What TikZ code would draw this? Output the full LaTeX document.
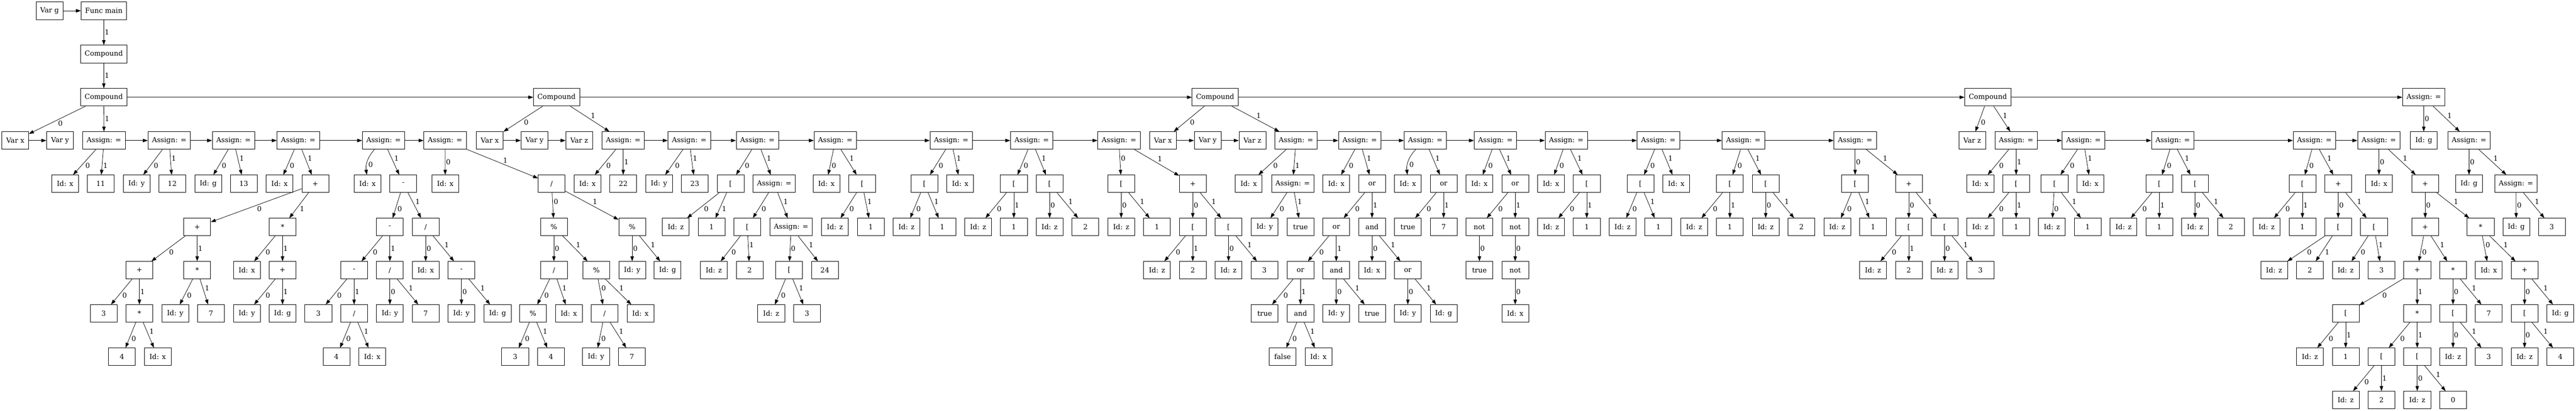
\documentclass[tikz,border=0pt]{standalone}
\usepackage{fontspec}
\setmainfont{DejaVu Serif}
\usetikzlibrary{arrows.meta}

\begin{document}
\begin{tikzpicture}[x=0.75pt, y=-87.05pt,
  box/.style={draw, rectangle, line width=0.8pt, minimum width=54pt, minimum height=35.3pt, inner xsep=8pt, font=\fontsize{14}{16}\selectfont},
  edge/.style={line width=0.8pt, -{Triangle[length=10pt,width=7pt]}},
  lbl/.style={auto, inner sep=1.5pt, font=\fontsize{14}{16}\selectfont}]
  \newcommand\nd[4]{\node[box] (#1) at (#2,#3) {#4};}
  \useasboundingbox (0,-0.249) rectangle (6911,9.254);

  \nd{vg}{133}{0}{Var g}
  \nd{fmain}{278.5}{0}{Func main}
  \nd{cmp}{278.5}{1}{Compound}
  \nd{ca}{278.5}{2}{Compound}
  \nd{cb}{1493}{2}{Compound}
  \nd{cc}{3260}{2}{Compound}
  \nd{cd}{5333}{2}{Compound}
  \nd{at}{6502.5}{2}{Assign: =}

  \nd{vxa}{41}{3}{Var x}
  \nd{vya}{161}{3}{Var y}
  \nd{a1}{279}{3}{Assign: =}
  \nd{a1l}{174.6}{4}{Id: x}
  \nd{a1r}{270}{4}{11}
  \nd{a2}{454}{3}{Assign: =}
  \nd{a2l}{366.5}{4}{Id: y}
  \nd{a2r}{462}{4}{12}
  \nd{a3}{626.6}{3}{Assign: =}
  \nd{a3l}{558.5}{4}{Id: g}
  \nd{a3r}{654}{4}{13}
  \nd{a4}{800}{3}{Assign: =}
  \nd{a4l}{750}{4}{Id: x}
  \nd{p1}{846}{4}{+}
  \nd{p2}{529}{5}{+}
  \nd{m1}{758}{5}{*}
  \nd{p3}{374}{6}{+}
  \nd{m2}{529}{6}{*}
  \nd{m1l}{662}{6}{Id: x}
  \nd{p4}{758}{6}{+}
  \nd{p3l}{278}{7}{3}
  \nd{m3}{374}{7}{*}
  \nd{m2l}{470}{7}{Id: y}
  \nd{m2r}{566}{7}{7}
  \nd{p4l}{662}{7}{Id: y}
  \nd{p4r}{758}{7}{Id: g}
  \nd{m3l}{327}{8}{4}
  \nd{m3r}{423}{8}{Id: x}
  \nd{a5}{1029}{3}{Assign: =}
  \nd{a5l}{986}{4}{Id: x}
  \nd{s1}{1082}{4}{-}
  \nd{s2}{1046}{5}{-}
  \nd{d1}{1142}{5}{/}
  \nd{s3}{950}{6}{-}
  \nd{d2}{1046}{6}{/}
  \nd{d1l}{1142}{6}{Id: x}
  \nd{s4}{1238}{6}{-}
  \nd{s3l}{854}{7}{3}
  \nd{d3}{950}{7}{/}
  \nd{d2l}{1046}{7}{Id: y}
  \nd{d2r}{1142}{7}{7}
  \nd{s4l}{1238}{7}{Id: y}
  \nd{s4r}{1335}{7}{Id: g}
  \nd{d3l}{902.6}{8}{4}
  \nd{d3r}{998.6}{8}{Id: x}
  \nd{a6}{1194}{3}{Assign: =}
  \nd{a6l}{1194.5}{4}{Id: x}
  \nd{d4}{1480}{4}{/}
  \nd{r1}{1486}{5}{\%}
  \nd{r2}{1696}{5}{\%}
  \nd{d5}{1486}{6}{/}
  \nd{r3}{1600}{6}{\%}
  \nd{r2l}{1696}{6}{Id: y}
  \nd{r2r}{1791}{6}{Id: g}
  \nd{r4}{1430}{7}{\%}
  \nd{d5r}{1526}{7}{Id: x}
  \nd{d6}{1622}{7}{/}
  \nd{r3r}{1718}{7}{Id: x}
  \nd{r4l}{1382}{8}{3}
  \nd{r4r}{1478}{8}{4}
  \nd{d6l}{1599}{8}{Id: y}
  \nd{d6r}{1695}{8}{7}

  \nd{vxb}{1314}{3}{Var x}
  \nd{vyb}{1434}{3}{Var y}
  \nd{vzb}{1554}{3}{Var z}
  \nd{a7}{1672}{3}{Assign: =}
  \nd{a7l}{1576}{4}{Id: x}
  \nd{a7r}{1672}{4}{22}
  \nd{a8}{1849}{3}{Assign: =}
  \nd{a8l}{1768}{4}{Id: y}
  \nd{a8r}{1864}{4}{23}
  \nd{a9}{2032}{3}{Assign: =}
  \nd{b1}{1960}{4}{[}
  \nd{a9b}{2077}{4}{Assign: =}
  \nd{b1l}{1813}{5}{Id: z}
  \nd{b1r}{1909}{5}{1}
  \nd{b2}{2005}{5}{[}
  \nd{a9c}{2122.5}{5}{Assign: =}
  \nd{b2l}{1915}{6}{Id: z}
  \nd{b2r}{2011}{6}{2}
  \nd{b3}{2117}{6}{[}
  \nd{a9cr}{2213}{6}{24}
  \nd{b3l}{2069}{7}{Id: z}
  \nd{b3r}{2165}{7}{3}
  \nd{a10}{2241}{3}{Assign: =}
  \nd{a10l}{2217}{4}{Id: x}
  \nd{b4}{2313}{4}{[}
  \nd{b4l}{2240}{5}{Id: z}
  \nd{b4r}{2336}{5}{1}
  \nd{a11}{2552}{3}{Assign: =}
  \nd{b5}{2480}{4}{[}
  \nd{a11r}{2576}{4}{Id: x}
  \nd{b5l}{2432}{5}{Id: z}
  \nd{b5r}{2528}{5}{1}
  \nd{a12}{2768}{3}{Assign: =}
  \nd{b6}{2720}{4}{[}
  \nd{b7}{2816}{4}{[}
  \nd{b6l}{2624}{5}{Id: z}
  \nd{b6r}{2720}{5}{1}
  \nd{b7l}{2816}{5}{Id: z}
  \nd{b7r}{2912}{5}{2}
  \nd{a13}{3002}{3}{Assign: =}
  \nd{b8}{3008}{4}{[}
  \nd{p5}{3200}{4}{+}
  \nd{b8l}{3008}{5}{Id: z}
  \nd{b8r}{3104}{5}{1}
  \nd{b9}{3200}{5}{[}
  \nd{b10}{3296}{5}{[}
  \nd{b9l}{3104}{6}{Id: z}
  \nd{b9r}{3200}{6}{2}
  \nd{b10l}{3296}{6}{Id: z}
  \nd{b10r}{3392}{6}{3}

  \nd{vxc}{3120}{3}{Var x}
  \nd{vyc}{3240}{3}{Var y}
  \nd{vzc}{3360}{3}{Var z}
  \nd{a14}{3477}{3}{Assign: =}
  \nd{a14l}{3350}{4}{Id: x}
  \nd{a14b}{3468}{4}{Assign: =}
  \nd{a14bl}{3393}{5}{Id: y}
  \nd{a14br}{3489}{5}{true}
  \nd{a15}{3648}{3}{Assign: =}
  \nd{a15l}{3585}{4}{Id: x}
  \nd{o1}{3681}{4}{or}
  \nd{o2}{3585}{5}{or}
  \nd{n1}{3681}{5}{and}
  \nd{o3}{3489}{6}{or}
  \nd{n2}{3585}{6}{and}
  \nd{n1l}{3681}{6}{Id: x}
  \nd{o4}{3777}{6}{or}
  \nd{o3l}{3393}{7}{true}
  \nd{n3}{3489}{7}{and}
  \nd{n2l}{3585}{7}{Id: y}
  \nd{n2r}{3681}{7}{true}
  \nd{o4l}{3777}{7}{Id: y}
  \nd{o4r}{3873}{7}{Id: g}
  \nd{n3l}{3441}{8}{false}
  \nd{n3r}{3537}{8}{Id: x}
  \nd{a16}{3824}{3}{Assign: =}
  \nd{a16l}{3777}{4}{Id: x}
  \nd{o5}{3873}{4}{or}
  \nd{o5l}{3777}{5}{true}
  \nd{o5r}{3873}{5}{7}
  \nd{a17}{4012}{3}{Assign: =}
  \nd{a17l}{3969}{4}{Id: x}
  \nd{o6}{4065}{4}{or}
  \nd{t1}{3969}{5}{not}
  \nd{t2}{4065}{5}{not}
  \nd{t1c}{3969}{6}{true}
  \nd{t3}{4065}{6}{not}
  \nd{t3c}{4065}{7}{Id: x}
  \nd{a18}{4202}{3}{Assign: =}
  \nd{a18l}{4161}{4}{Id: x}
  \nd{b11}{4257}{4}{[}
  \nd{b11l}{4161}{5}{Id: z}
  \nd{b11r}{4257}{5}{1}
  \nd{a19}{4449}{3}{Assign: =}
  \nd{b12}{4401}{4}{[}
  \nd{a19r}{4497}{4}{Id: x}
  \nd{b12l}{4353}{5}{Id: z}
  \nd{b12r}{4449}{5}{1}
  \nd{a20}{4677}{3}{Assign: =}
  \nd{b13}{4641}{4}{[}
  \nd{b14}{4737}{4}{[}
  \nd{b13l}{4545}{5}{Id: z}
  \nd{b13r}{4641}{5}{1}
  \nd{b14l}{4737}{5}{Id: z}
  \nd{b14r}{4833}{5}{2}
  \nd{a21}{4977}{3}{Assign: =}
  \nd{b15}{4977}{4}{[}
  \nd{p6}{5121}{4}{+}
  \nd{b15l}{4929}{5}{Id: z}
  \nd{b15r}{5025}{5}{1}
  \nd{b16}{5121}{5}{[}
  \nd{b17}{5217}{5}{[}
  \nd{b16l}{5025}{6}{Id: z}
  \nd{b16r}{5121}{6}{2}
  \nd{b17l}{5217}{6}{Id: z}
  \nd{b17r}{5313}{6}{3}

  \nd{vzd}{5291}{3}{Var z}
  \nd{a22}{5409}{3}{Assign: =}
  \nd{a22l}{5313}{4}{Id: x}
  \nd{b18}{5409}{4}{[}
  \nd{b18l}{5313}{5}{Id: z}
  \nd{b18r}{5409}{5}{1}
  \nd{a23}{5589.5}{3}{Assign: =}
  \nd{b19}{5512}{4}{[}
  \nd{a23r}{5608}{4}{Id: x}
  \nd{b19l}{5505}{5}{Id: z}
  \nd{b19r}{5601}{5}{1}
  \nd{a24}{5829}{3}{Assign: =}
  \nd{b20}{5793}{4}{[}
  \nd{b21}{5889}{4}{[}
  \nd{b20l}{5697}{5}{Id: z}
  \nd{b20r}{5793}{5}{1}
  \nd{b21l}{5889}{5}{Id: z}
  \nd{b21r}{5985}{5}{2}
  \nd{a25}{6209}{3}{Assign: =}
  \nd{b22}{6177}{4}{[}
  \nd{p7}{6273}{4}{+}
  \nd{b22l}{6081}{5}{Id: z}
  \nd{b22r}{6177}{5}{1}
  \nd{b23}{6273}{5}{[}
  \nd{b24}{6369}{5}{[}
  \nd{b23l}{6101}{6}{Id: z}
  \nd{b23r}{6197}{6}{2}
  \nd{b24l}{6293}{6}{Id: z}
  \nd{b24r}{6389}{6}{3}
  \nd{a26}{6382}{3}{Assign: =}
  \nd{a26l}{6382.6}{4}{Id: x}
  \nd{p8}{6506.5}{4}{+}
  \nd{p9}{6506.5}{5}{+}
  \nd{m4}{6655}{5}{*}
  \nd{p10}{6485}{6}{+}
  \nd{m5}{6581}{6}{*}
  \nd{m4l}{6677}{6}{Id: x}
  \nd{p11}{6773}{6}{+}
  \nd{b25}{6293}{7}{[}
  \nd{m6}{6485}{7}{*}
  \nd{b28}{6581}{7}{[}
  \nd{m5r}{6677}{7}{7}
  \nd{b29}{6773}{7}{[}
  \nd{p11r}{6869}{7}{Id: g}
  \nd{b25l}{6197}{8}{Id: z}
  \nd{b25r}{6293}{8}{1}
  \nd{b26}{6389}{8}{[}
  \nd{b27}{6485}{8}{[}
  \nd{b28l}{6581}{8}{Id: z}
  \nd{b28r}{6677}{8}{3}
  \nd{b29l}{6773}{8}{Id: z}
  \nd{b29r}{6869}{8}{4}
  \nd{b26l}{6293}{9}{Id: z}
  \nd{b26r}{6389}{9}{2}
  \nd{b27l}{6485}{9}{Id: z}
  \nd{b27r}{6581}{9}{0}

  \nd{atl}{6502.5}{3}{Id: g}
  \nd{at2}{6624}{3}{Assign: =}
  \nd{at2l}{6624}{4}{Id: g}
  \nd{at3}{6750}{4}{Assign: =}
  \nd{at3l}{6750.6}{5}{Id: g}
  \nd{at3r}{6846}{5}{3}

  \foreach \u/\v in {vg/fmain, ca/cb, cb/cc, cc/cd, cd/at, vxa/vya, a1/a2, a2/a3, a3/a4, a4/a5, a5/a6,
    vxb/vyb, vyb/vzb, a7/a8, a8/a9, a9/a10, a10/a11, a11/a12, a12/a13,
    vxc/vyc, vyc/vzc, a14/a15, a15/a16, a16/a17, a17/a18, a18/a19, a19/a20, a20/a21,
    a22/a23, a23/a24, a24/a25, a25/a26}
    \draw[edge] (\u) -- (\v);

  \foreach \p/\c/\l in {fmain/cmp/1, cmp/ca/1, ca/vxa/0, ca/a1/1,
    a1/a1l/0, a1/a1r/1, a2/a2l/0, a2/a2r/1, a3/a3l/0, a3/a3r/1,
    a4/a4l/0, a4/p1/1, p1/p2/0, p1/m1/1, p2/p3/0, p2/m2/1, p3/p3l/0, p3/m3/1, m3/m3l/0, m3/m3r/1,
    m2/m2l/0, m2/m2r/1, m1/m1l/0, m1/p4/1, p4/p4l/0, p4/p4r/1,
    a5/s1/1, s1/s2/0, s1/d1/1, s2/s3/0, s2/d2/1, s3/s3l/0, s3/d3/1, d3/d3l/0, d3/d3r/1,
    d2/d2l/0, d2/d2r/1, d1/d1l/0, d1/s4/1, s4/s4l/0, s4/s4r/1,
    a6/a6l/0, a6/d4/1, d4/r1/0, d4/r2/1, r1/d5/0, r1/r3/1, d5/r4/0, d5/d5r/1, r4/r4l/0, r4/r4r/1,
    r3/d6/0, r3/r3r/1, d6/d6l/0, d6/d6r/1, r2/r2l/0, r2/r2r/1}
    \draw[edge] (\p) -- node[lbl]{\l} (\c);

  \foreach \p/\c/\l in {cb/vxb/0, cb/a7/1, a7/a7l/0, a7/a7r/1, a8/a8l/0, a8/a8r/1,
    a9/b1/0, a9/a9b/1, b1/b1l/0, b1/b1r/1, a9b/b2/0, a9b/a9c/1, b2/b2l/0, b2/b2r/1,
    a9c/b3/0, a9c/a9cr/1, b3/b3l/0, b3/b3r/1, a10/a10l/0, a10/b4/1, b4/b4l/0, b4/b4r/1,
    a11/b5/0, a11/a11r/1, b5/b5l/0, b5/b5r/1, a12/b6/0, a12/b7/1, b6/b6l/0, b6/b6r/1, b7/b7l/0, b7/b7r/1,
    a13/b8/0, a13/p5/1, b8/b8l/0, b8/b8r/1, p5/b9/0, p5/b10/1, b9/b9l/0, b9/b9r/1, b10/b10l/0, b10/b10r/1}
    \draw[edge] (\p) -- node[lbl]{\l} (\c);

  \foreach \p/\c/\l in {cc/vxc/0, cc/a14/1, a14/a14l/0, a14/a14b/1, a14b/a14bl/0, a14b/a14br/1,
    a15/a15l/0, a15/o1/1, o1/o2/0, o1/n1/1, o2/o3/0, o2/n2/1, o3/o3l/0, o3/n3/1, n3/n3l/0, n3/n3r/1,
    n2/n2l/0, n2/n2r/1, n1/n1l/0, n1/o4/1, o4/o4l/0, o4/o4r/1,
    a16/o5/1, o5/o5l/0, o5/o5r/1, a17/a17l/0, a17/o6/1, o6/t1/0, o6/t2/1, t1/t1c/0, t2/t3/0, t3/t3c/0,
    a18/a18l/0, a18/b11/1, b11/b11l/0, b11/b11r/1, a19/b12/0, a19/a19r/1, b12/b12l/0, b12/b12r/1,
    a20/b13/0, a20/b14/1, b13/b13l/0, b13/b13r/1, b14/b14l/0, b14/b14r/1,
    a21/b15/0, a21/p6/1, b15/b15l/0, b15/b15r/1, p6/b16/0, p6/b17/1, b16/b16l/0, b16/b16r/1, b17/b17l/0, b17/b17r/1}
    \draw[edge] (\p) -- node[lbl]{\l} (\c);

  \foreach \p/\c/\l in {cd/vzd/0, cd/a22/1, a22/a22l/0, a22/b18/1, b18/b18l/0, b18/b18r/1,
    a23/b19/0, a23/a23r/1, b19/b19l/0, b19/b19r/1, a24/b20/0, a24/b21/1, b20/b20l/0, b20/b20r/1, b21/b21l/0, b21/b21r/1,
    a25/b22/0, a25/p7/1, b22/b22l/0, b22/b22r/1, p7/b23/0, p7/b24/1, b23/b23l/0, b23/b23r/1, b24/b24l/0, b24/b24r/1,
    a26/a26l/0, a26/p8/1, p8/p9/0, p8/m4/1, p9/p10/0, p9/m5/1, p10/b25/0, p10/m6/1, b25/b25l/0, b25/b25r/1,
    m6/b26/0, m6/b27/1, b26/b26l/0, b26/b26r/1, b27/b27l/0, b27/b27r/1, m5/b28/0, m5/m5r/1, b28/b28l/0, b28/b28r/1,
    m4/m4l/0, m4/p11/1, p11/b29/0, p11/p11r/1, b29/b29l/0, b29/b29r/1,
    at/atl/0, at/at2/1, at2/at2l/0, at2/at3/1, at3/at3l/0, at3/at3r/1}
    \draw[edge] (\p) -- node[lbl]{\l} (\c);

  \draw[edge] (a5) to[bend right=25] node[lbl]{0} (a5l);
  \draw[edge] (a16) to[bend right=25] node[lbl]{0} (a16l);
\end{tikzpicture}
\end{document}
